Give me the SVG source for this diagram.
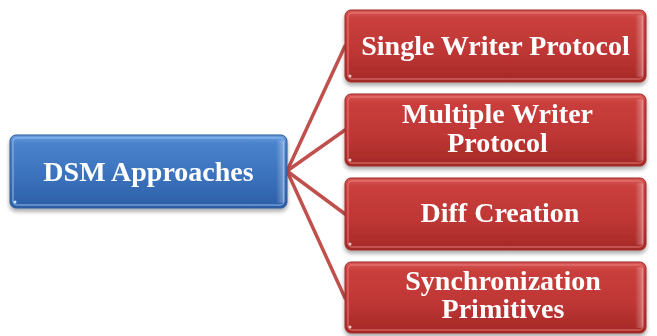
<svg xmlns="http://www.w3.org/2000/svg" width="657" height="336" viewBox="0 0 657 336">
  <defs>
    <linearGradient id="gRed" x1="0" y1="0" x2="0" y2="1">
      <stop offset="0" stop-color="#d95a57"/>
      <stop offset="0.12" stop-color="#c93f3c"/>
      <stop offset="0.6" stop-color="#be3634"/>
      <stop offset="1" stop-color="#a42826"/>
    </linearGradient>
    <linearGradient id="gBlue" x1="0" y1="0" x2="0" y2="1">
      <stop offset="0" stop-color="#6a9ee0"/>
      <stop offset="0.12" stop-color="#4a82cc"/>
      <stop offset="0.6" stop-color="#3a70bb"/>
      <stop offset="1" stop-color="#2c5ea6"/>
    </linearGradient>
    <linearGradient id="gEdgeR" x1="0" y1="0" x2="1" y2="0">
      <stop offset="0" stop-color="#ffffff" stop-opacity="0"/>
      <stop offset="1" stop-color="#ffffff" stop-opacity="0.35"/>
    </linearGradient>
    <filter id="shadow" x="-10%" y="-20%" width="120%" height="150%">
      <feGaussianBlur in="SourceAlpha" stdDeviation="2"/>
      <feOffset dx="0" dy="3" result="b"/>
      <feComponentTransfer><feFuncA type="linear" slope="0.35"/></feComponentTransfer>
      <feMerge><feMergeNode/><feMergeNode in="SourceGraphic"/></feMerge>
    </filter>
  </defs>
  <style>
    .red { fill: url(#gRed); stroke: #9c2b29; stroke-width: 1; }
    .blue { fill: url(#gBlue); stroke: #2b5a98; stroke-width: 1; }
    .hlR { fill: none; stroke: #e98482; stroke-opacity: 0.6; stroke-width: 1.5; }
    .hlB { fill: none; stroke: #9cc4f0; stroke-opacity: 0.6; stroke-width: 1.5; }
    .lbl { font-family: "Liberation Serif", "Times New Roman", serif; font-weight: bold; font-size: 28px; fill: #ffffff; text-anchor: middle; }
    .conn { stroke: #c0504d; stroke-width: 3.5; fill: none; stroke-linecap: round; }
  </style>
  <g id="connectors">
    <line class="conn" x1="287" y1="171" x2="345" y2="46"/>
    <line class="conn" x1="287" y1="171" x2="345" y2="130"/>
    <line class="conn" x1="287" y1="171" x2="345" y2="214"/>
    <line class="conn" x1="287" y1="171" x2="345" y2="298"/>
  </g>
  <g id="dsm" filter="url(#shadow)">
    <rect class="blue" x="10" y="135" width="277" height="73" rx="6"/>
    <rect class="hlB" x="13" y="138" width="271" height="67" rx="4"/>
    <rect x="276" y="140" width="8" height="63" rx="3" fill="url(#gEdgeR)"/>
    <circle cx="15" cy="202" r="1.5" fill="#cfe2fa"/>
    <text class="lbl" x="148.5" y="181">DSM Approaches</text>
  </g>
  <g id="single" filter="url(#shadow)">
    <rect class="red" x="345" y="10" width="301" height="72" rx="6"/>
    <rect class="hlR" x="348" y="13" width="295" height="66" rx="4"/>
    <rect x="635" y="15" width="8" height="62" rx="3" fill="url(#gEdgeR)"/>
    <circle cx="350" cy="76" r="1.5" fill="#f6c9c8"/>
    <text class="lbl" x="495.5" y="55">Single Writer Protocol</text>
  </g>
  <g id="multiple" filter="url(#shadow)">
    <rect class="red" x="345" y="94" width="301" height="72" rx="6"/>
    <rect class="hlR" x="348" y="97" width="295" height="66" rx="4"/>
    <rect x="635" y="99" width="8" height="62" rx="3" fill="url(#gEdgeR)"/>
    <circle cx="350" cy="160" r="1.5" fill="#f6c9c8"/>
    <text class="lbl" x="497.5" y="123">Multiple Writer</text>
    <text class="lbl" x="497.5" y="152">Protocol</text>
  </g>
  <g id="diff" filter="url(#shadow)">
    <rect class="red" x="345" y="178" width="301" height="72" rx="6"/>
    <rect class="hlR" x="348" y="181" width="295" height="66" rx="4"/>
    <rect x="635" y="183" width="8" height="62" rx="3" fill="url(#gEdgeR)"/>
    <circle cx="350" cy="244" r="1.5" fill="#f6c9c8"/>
    <text class="lbl" x="500" y="222">Diff Creation</text>
  </g>
  <g id="sync" filter="url(#shadow)">
    <rect class="red" x="345" y="262" width="301" height="71" rx="6"/>
    <rect class="hlR" x="348" y="265" width="295" height="65" rx="4"/>
    <rect x="635" y="267" width="8" height="61" rx="3" fill="url(#gEdgeR)"/>
    <circle cx="350" cy="327" r="1.5" fill="#f6c9c8"/>
    <text class="lbl" x="503" y="290">Synchronization</text>
    <text class="lbl" x="503" y="318">Primitives</text>
  </g>
</svg>
